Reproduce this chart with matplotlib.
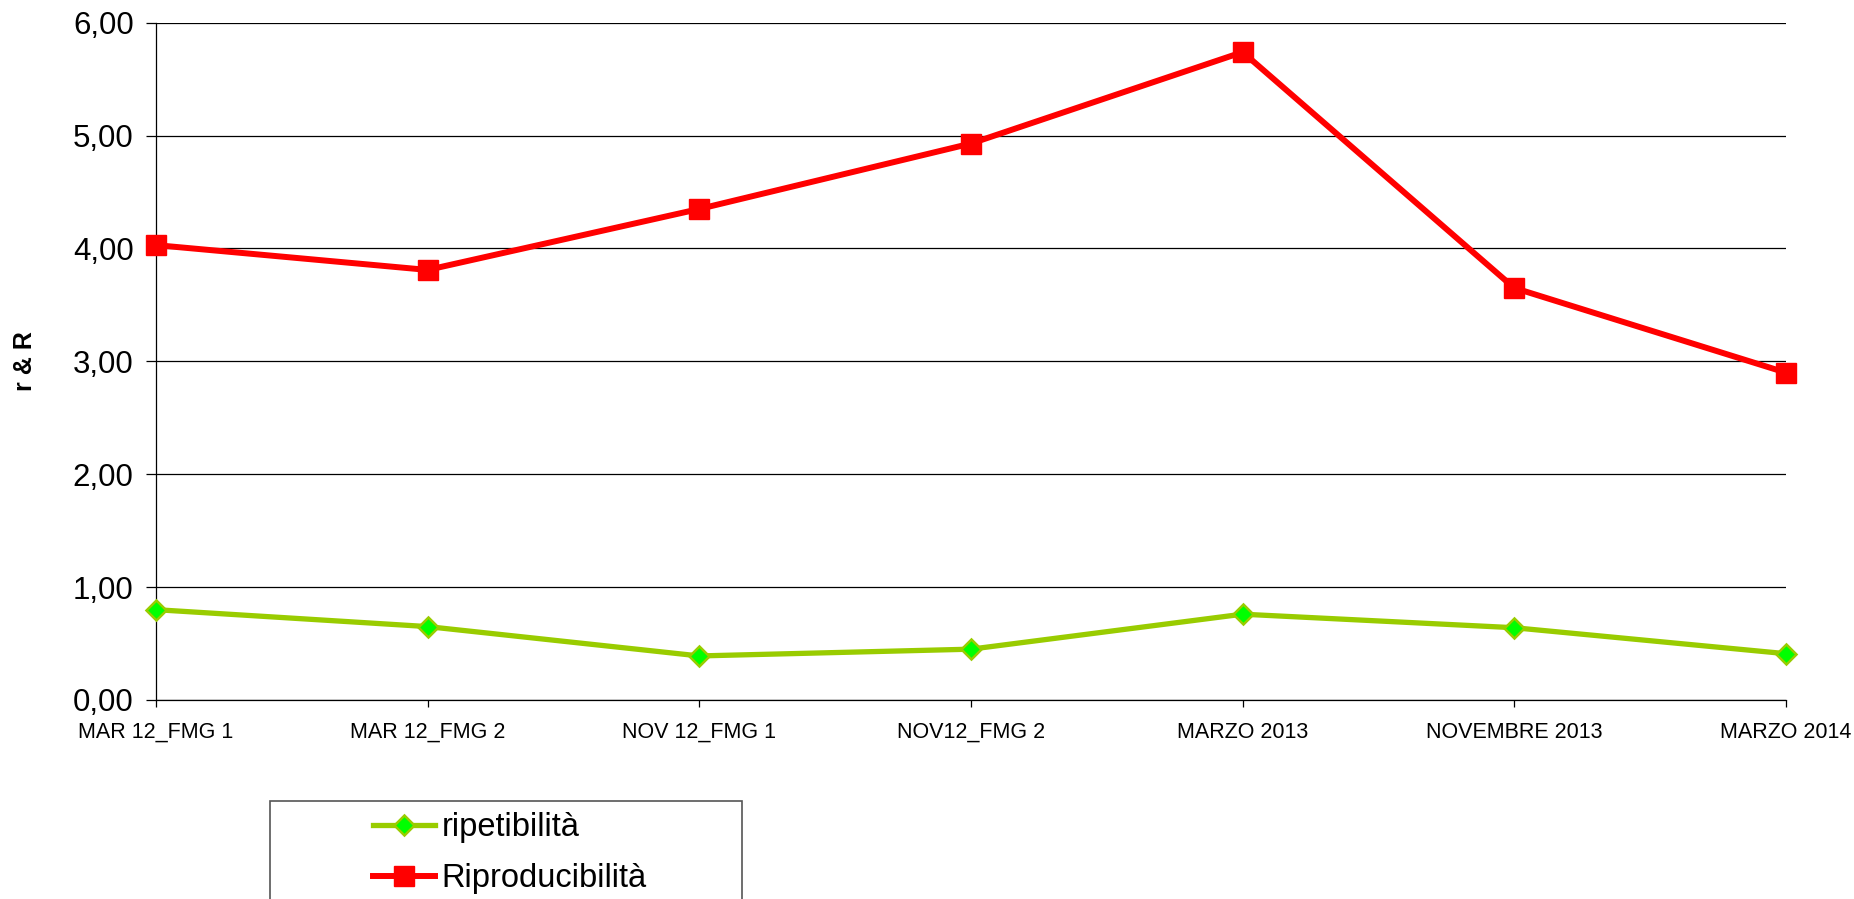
import matplotlib.pyplot as plt
from matplotlib.patches import Rectangle
from matplotlib.ticker import FuncFormatter

plt.rcParams['font.family'] = ['Liberation Sans', 'DejaVu Sans']

# dati
campagne = ['MAR 12_FMG 1', 'MAR 12_FMG 2', 'NOV 12_FMG 1', 'NOV12_FMG 2',
            'MARZO 2013', 'NOVEMBRE 2013', 'MARZO 2014']
ripetibilita = [0.80, 0.65, 0.39, 0.45, 0.76, 0.64, 0.41]
riproducibilita = [4.03, 3.81, 4.35, 4.93, 5.74, 3.65, 2.90]

fig = plt.figure(figsize=(18.54, 8.99), dpi=100)
ax = fig.add_axes([0.0841, 0.2214, 0.8792, 0.7533])

x = list(range(len(campagne)))

ax.plot(x, ripetibilita, color='#99CC00', linewidth=3.8, marker='D',
        markersize=10, markerfacecolor='#00FF00', markeredgecolor='#99CC00',
        markeredgewidth=1.8, label='ripetibilità', clip_on=False, zorder=3)
ax.plot(x, riproducibilita, color='#FF0000', linewidth=4.3, marker='s',
        markersize=15, markerfacecolor='#FF0000', markeredgecolor='#FF0000',
        label='Riproducibilità', clip_on=False, zorder=4)

# assi
ax.set_xlim(0, len(campagne) - 1)
ax.set_ylim(0, 6)
ax.set_yticks([0, 1, 2, 3, 4, 5, 6])
ax.yaxis.set_major_formatter(FuncFormatter(lambda v, p: f'{v:.2f}'.replace('.', ',')))
ax.set_xticks(x)
ax.set_xticklabels(campagne)
ax.grid(axis='y', color='black', linewidth=0.9)
ax.set_axisbelow(True)
for s in ['top', 'right']:
    ax.spines[s].set_visible(False)
ax.spines['left'].set_linewidth(0.9)
ax.spines['bottom'].set_linewidth(0.9)
ax.tick_params(axis='y', direction='out', length=7, width=0.9, pad=9, labelsize=22.5)
ax.tick_params(axis='x', direction='out', length=5, width=0.9, pad=11, labelsize=15.5)
ax.set_ylabel('r & R', fontsize=18, fontweight='bold')
ax.yaxis.set_label_coords(-0.073, 0.5)

# legenda (il riquadro esce dal bordo inferiore)
fig.patches.append(Rectangle((270 / 1854, -0.05), 472 / 1854, 0.05 + 98 / 899,
                             transform=fig.transFigure, fill=False,
                             edgecolor='#555555', linewidth=1.2))
fig.legend(loc='upper left', bbox_to_anchor=(360 / 1854, 1 - 799 / 899),
           frameon=False, fontsize=23.5, handlelength=1.9, handletextpad=0.2,
           labelspacing=0.62, borderaxespad=0)

fig.savefig('out.png', dpi=100)
